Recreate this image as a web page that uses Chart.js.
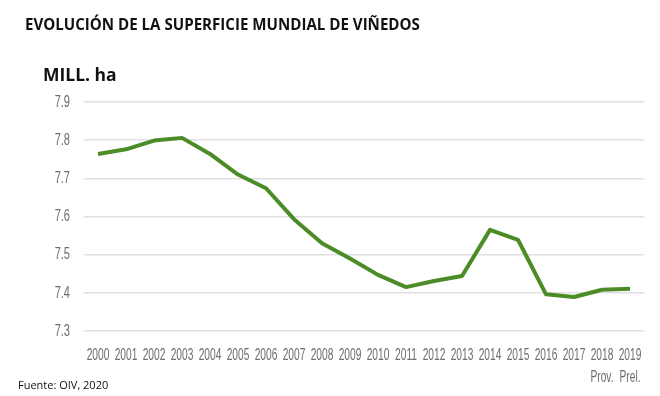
<!DOCTYPE html>
<html>
<head>
<meta charset="utf-8">
<script src="https://cdn.jsdelivr.net/npm/chart.js@4"></script>
<style>
    html, body { margin: 0; padding: 0; background: #ffffff; }
    #wrap { position: relative; width: 660px; height: 396px; overflow: hidden; }
    #chart { position: absolute; left: 0; top: 0; }
    .txt { position: absolute; font-family: 'Open Sans', sans-serif; color: #111; white-space: nowrap; }
    #title { left: 25px; top: 14px; font-size: 15.1px; font-weight: 700; }
    #unit { left: 43px; top: 62px; font-size: 17.5px; font-weight: 700; }
    #source { left: 18px; top: 377px; font-size: 11px; }
</style>
</head>
<body>
<div id="wrap">
    <canvas id="chart" width="660" height="396"></canvas>
    <div class="txt" id="title">EVOLUCIÓN DE LA SUPERFICIE MUNDIAL DE VIÑEDOS</div>
    <div class="txt" id="unit">MILL. ha</div>
    <div class="txt" id="source">Fuente: OIV, 2020</div>
</div>
<script>
const years = ['2000', '2001', '2002', '2003', '2004', '2005', '2006', '2007', '2008', '2009',
               '2010', '2011', '2012', '2013', '2014', '2015', '2016', '2017', '2018', '2019'];
const yearNotes = { '2018': 'Prov.', '2019': 'Prel.' };
const surface = [7.764, 7.776, 7.799, 7.806, 7.764, 7.710, 7.674, 7.593, 7.530, 7.490,
                 7.447, 7.415, 7.431, 7.444, 7.565, 7.539, 7.396, 7.389, 7.408, 7.411];
const yTicks = [7.3, 7.4, 7.5, 7.6, 7.7, 7.8, 7.9];

const GREEN = '#4b8c27';
const TICK_COLOR = '#6d6d6d';
const TICK_FONT = "17px 'Liberation Sans', sans-serif";
const SQUEEZE = 0.6;   // no condensed face installed, so squeeze the tick text

const labels = years.map(y => yearNotes[y] ? [y, yearNotes[y]] : y);

// draws the tick labels of both axes, narrowed, at the positions the scales give
const narrowTicks = {
    id: 'narrowTicks',
    afterDraw(chart) {
        const ctx = chart.ctx;
        const x = chart.scales.x, y = chart.scales.y;
        const area = chart.chartArea;
        ctx.save();
        ctx.font = TICK_FONT;
        ctx.fillStyle = TICK_COLOR;
        ctx.textBaseline = 'middle';
        ctx.textAlign = 'center';
        x.ticks.forEach((t, i) => {
            const lines = [].concat(labels[i]);
            const px = x.getPixelForTick(i);
            lines.forEach((line, j) => {
                ctx.save();
                ctx.translate(px, area.bottom + 24 + j * 22);
                ctx.scale(SQUEEZE, 1);
                ctx.fillText(line, 0, 0);
                ctx.restore();
            });
        });
        ctx.textAlign = 'right';
        y.ticks.forEach(t => {
            ctx.save();
            ctx.translate(area.left - 14, y.getPixelForValue(t.value));
            ctx.scale(SQUEEZE + 0.05, 1);
            ctx.fillText(t.value.toFixed(1), 0, 0);
            ctx.restore();
        });
        ctx.restore();
    }
};

new Chart(document.getElementById('chart'), {
    type: 'line',
    data: {
        labels: labels,
        datasets: [{
            data: surface,
            borderColor: GREEN,
            borderWidth: 4,
            borderJoinStyle: 'round',
            pointRadius: 0,
            tension: 0,
            fill: false
        }]
    },
    options: {
        responsive: false,
        animation: false,
        layout: { padding: { top: 102, left: 0, right: 16, bottom: 0 } },
        plugins: { legend: { display: false }, tooltip: { enabled: false } },
        scales: {
            x: {
                offset: true,
                grid: { display: false },
                border: { display: false },
                ticks: { display: false, autoSkip: false },
                afterFit: axis => { axis.height = 65; }
            },
            y: {
                min: 7.3,
                max: 7.9,
                afterBuildTicks: axis => { axis.ticks = yTicks.map(v => ({ value: v })); },
                grid: { color: '#e0e0e0', lineWidth: 1.6, drawTicks: false },
                border: { display: false },
                ticks: { display: false },
                afterFit: axis => { axis.width = 84; }
            }
        }
    },
    plugins: [narrowTicks]
});
</script>
</body>
</html>
